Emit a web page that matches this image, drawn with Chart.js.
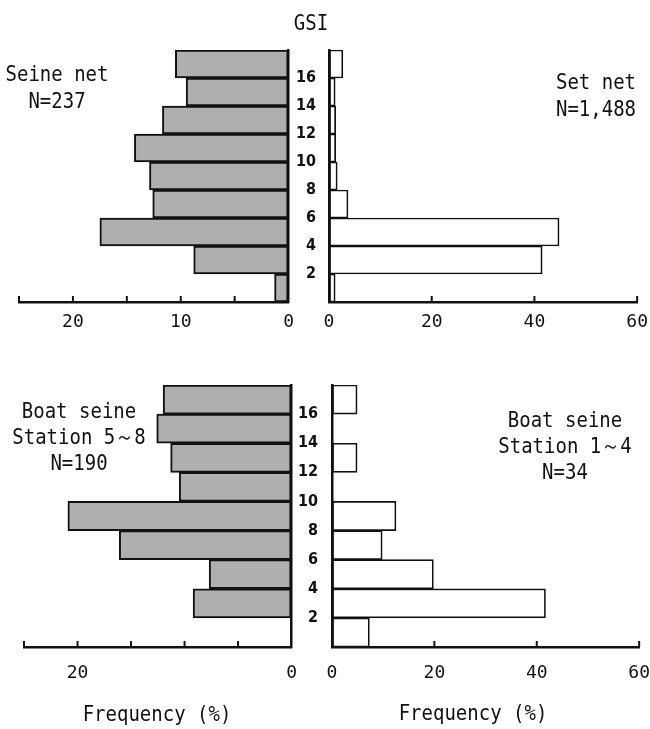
<!DOCTYPE html>
<html lang="en">
<head>
    <meta charset="UTF-8">
    <title>GSI frequency by gear</title>
    <script src="https://cdn.jsdelivr.net/npm/chart.js"></script>
    <style>
        body { margin: 0; background: #fff; }
        #page { position: relative; width: 650px; height: 729px; overflow: hidden; }
        canvas { position: absolute; }
        .note {
            position: absolute;
            font-family: "DejaVu Sans Mono", monospace;
            font-size: 19px;
            line-height: 23px;
            color: #111;
            text-align: center;
            white-space: pre;
            transform-origin: 50% 50%;
            transform: translateX(-50%) scaleY(1.15);
        }
    </style>
</head>
<body>
<div id="page">
    <canvas id="seineChart" width="304" height="345" style="left:0;top:0"></canvas>
    <canvas id="setChart" width="363" height="345" style="left:295px;top:0"></canvas>
    <canvas id="boat58Chart" width="313" height="384" style="left:0;top:345px"></canvas>
    <canvas id="boat14Chart" width="371" height="384" style="left:295px;top:345px"></canvas>

    <div class="note" style="left:311px;top:11px">GSI</div>
    <div class="note" style="left:57px;top:64px">Seine net
N=237</div>
    <div class="note" style="left:596px;top:72px">Set net
N=1,488</div>
    <div class="note" style="left:79px;top:402px">Boat seine
Station 5～8
N=190</div>
    <div class="note" style="left:565px;top:411px">Boat seine
Station 1～4
N=34</div>
    <div class="note" style="left:157px;top:702px">Frequency (%)</div>
    <div class="note" style="left:473px;top:701px">Frequency (%)</div>
</div>

<script>
    // GSI classes 0-2, 2-4, ... 16-18 (bin centres), frequencies in %
    const gsiBins = [1, 3, 5, 7, 9, 11, 13, 15, 17];
    const seineNet = [1.3, 8.8, 17.5, 12.6, 12.9, 14.3, 11.7, 9.5, 10.5];
    const setNet = [1.2, 41.5, 44.8, 3.7, 1.6, 1.3, 1.3, 1.2, 2.7];
    const boatSeine58 = [0, 9.2, 7.7, 16.1, 20.9, 10.5, 11.3, 12.6, 12.0];
    const boatSeine14 = [7.3, 41.7, 19.8, 9.8, 12.5, 0, 4.9, 0, 4.9];

    const leftTicks = [5, 10, 15, 20, 25];
    const rightTicks = [20, 40, 60];

    const ink = '#111';
    const tickFont = { family: 'DejaVu Sans Mono', size: 18 };
    const gsiFont = { family: "'Liberation Sans Narrow', 'DejaVu Sans Condensed', sans-serif", size: 16, weight: 'bold' };

    // little tick marks standing up from the x axis line
    const innerTicks = {
        id: 'innerTicks',
        afterDraw(chart, args, opts) {
            const ctx = chart.ctx;
            const xs = chart.scales.x;
            const y = chart.chartArea.bottom;
            ctx.save();
            ctx.strokeStyle = ink;
            ctx.lineWidth = 2;
            opts.values.forEach(v => {
                const px = xs.getPixelForValue(v);
                ctx.beginPath();
                ctx.moveTo(px, y);
                ctx.lineTo(px, y - 6);
                ctx.stroke();
            });
            ctx.restore();
        }
    };

    function makePanel(id, values, cfg) {
        const ctx = document.getElementById(id).getContext('2d');
        return new Chart(ctx, {
            type: 'bar',
            data: {
                datasets: [{
                    data: gsiBins.map((g, i) => ({ x: values[i], y: g })),
                    backgroundColor: cfg.fill,
                    borderColor: ink,
                    borderWidth: cfg.border,
                    borderSkipped: false,
                    barPercentage: 1,
                    categoryPercentage: 1
                }]
            },
            options: {
                indexAxis: 'y',
                responsive: false,
                animation: false,
                layout: { padding: cfg.padding },
                plugins: {
                    legend: { display: false },
                    tooltip: { enabled: false },
                    innerTicks: { values: cfg.innerTicks }
                },
                scales: {
                    x: {
                        type: 'linear',
                        min: 0,
                        max: cfg.max,
                        reverse: cfg.reverse,
                        grid: { drawOnChartArea: false, drawTicks: false },
                        border: { display: true, color: ink, width: 2.5 },
                        ticks: {
                            stepSize: cfg.step,
                            padding: cfg.xPad,
                            color: ink,
                            font: tickFont,
                            maxRotation: 0,
                            autoSkip: false,
                            callback: v => cfg.xLabels.includes(v) ? String(v) : ''
                        },
                        afterFit: s => { s.height = cfg.xHeight; }
                    },
                    y: {
                        type: 'linear',
                        position: cfg.yPos,
                        min: 0,
                        max: 18,
                        offset: false,
                        grid: { drawOnChartArea: false, drawTicks: false, offset: false },
                        border: { display: true, color: ink, width: 2.5 },
                        ticks: {
                            display: cfg.yLabels,
                            stepSize: 2,
                            padding: cfg.yPad,
                            color: ink,
                            font: gsiFont,
                            callback: v => (v > 0 && v < 18) ? String(v) : ''
                        },
                        afterFit: s => { s.width = cfg.yWidth; }
                    }
                }
            },
            plugins: [innerTicks]
        });
    }

    makePanel('seineChart', seineNet, {
        fill: '#afafaf', border: 2, max: 25, reverse: true, step: 5,
        xLabels: [0, 10, 20], innerTicks: leftTicks, xPad: 10, xHeight: 43,
        padding: { left: 19, top: 50, right: 7, bottom: 0 },
        yPos: 'right', yLabels: false, yPad: 0, yWidth: 0
    });

    makePanel('setChart', setNet, {
        fill: '#ffffff', border: 1.7, max: 60, reverse: false, step: 20,
        xLabels: [0, 20, 40, 60], innerTicks: rightTicks, xPad: 10, xHeight: 43,
        padding: { left: 0, top: 50, right: 0, bottom: 0 },
        yPos: 'left', yLabels: true, yPad: 13, yWidth: 34
    });

    makePanel('boat58Chart', boatSeine58, {
        fill: '#afafaf', border: 2, max: 25, reverse: true, step: 5,
        xLabels: [0, 20], innerTicks: leftTicks, xPad: 16, xHeight: 82,
        padding: { left: 24, top: 40, right: 7, bottom: 0 },
        yPos: 'right', yLabels: false, yPad: 0, yWidth: 0
    });

    makePanel('boat14Chart', boatSeine14, {
        fill: '#ffffff', border: 1.7, max: 60, reverse: false, step: 20,
        xLabels: [0, 20, 40, 60], innerTicks: rightTicks, xPad: 16, xHeight: 82,
        padding: { left: 0, top: 40, right: 0, bottom: 0 },
        yPos: 'left', yLabels: true, yPad: 14, yWidth: 37
    });
</script>
</body>
</html>
